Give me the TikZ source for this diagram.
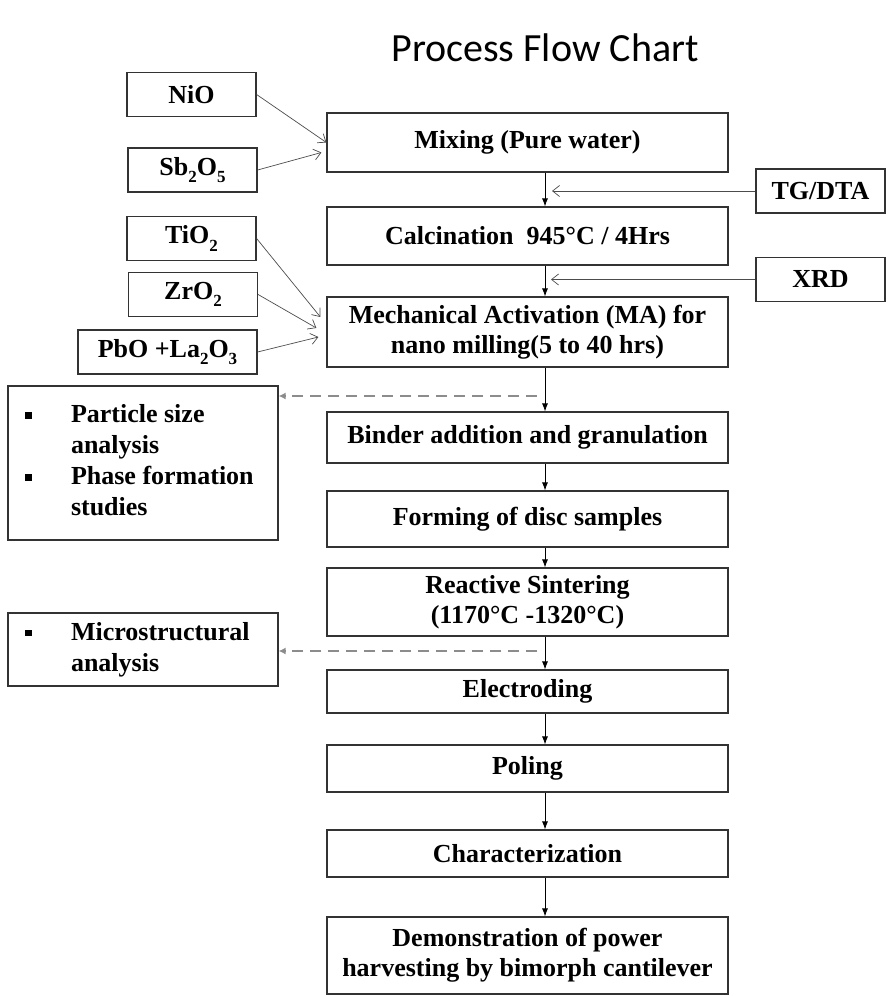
\documentclass[tikz,border=0pt]{standalone}
\usepackage{fontspec}
\setmainfont{Liberation Serif}
\newfontfamily\titlefont{Carlito}
\usetikzlibrary{arrows.meta,calc}
\newcommand{\lowsub}[1]{\raisebox{-0.28em}{\fontsize{17}{17}\selectfont #1}}

\begin{document}
\begin{tikzpicture}[x=1pt, y=-1pt,
  box/.style={draw=black!80, line width=1.2pt, inner sep=2pt, align=center, font=\fontsize{26}{30}\selectfont\bfseries},
  stepbox/.style={box, minimum width=401pt},
  inbox/.style={box, minimum width=129pt, minimum height=44pt},
  listbox/.style={box, minimum width=270pt, inner xsep=17pt, text width=236pt, align=left},
  flow/.style={-{Latex[length=8pt,width=6pt]}, line width=0.8pt},
  feed/.style={-{Straight Barb[length=7pt,width=11pt]}, line width=0.7pt, draw=black!70},
  probe/.style={-{Latex[length=7pt,width=7pt]}, line width=2.5pt, draw=black!45, dash pattern=on 11pt off 7pt}
]
\useasboundingbox (0,0) rectangle (887,996);
\node[font=\titlefont\fontsize{40}{48}\selectfont] (title) at (545,48) {Process Flow Chart};

% main process chain
\node[stepbox, minimum height=59pt] (mix)  at (527.5,142.5) {Mixing (Pure water)};
\node[stepbox, minimum height=58pt] (calc) at (527.5,236)   {Calcination\ \ 945°C / 4Hrs};
\node[stepbox, minimum height=70pt] (ma)   at (527.5,332)   {Mechanical Activation (MA) for\\nano milling(5 to 40 hrs)};
\node[stepbox, minimum height=51pt] (bind) at (527.5,437.5) {Binder addition and granulation};
\node[stepbox, minimum height=56pt] (form) at (527.5,519)   {Forming of disc samples};
\node[stepbox, minimum height=68pt] (sint) at (527.5,602)   {Reactive Sintering\\(1170°C -1320°C)};
\node[stepbox, minimum height=43pt] (elec) at (527.5,691.5) {Electroding};
\node[stepbox, minimum height=47pt] (pol)  at (527.5,768.5) {Poling};
\node[stepbox, minimum height=47pt] (char) at (527.5,853.5) {Characterization};
\node[stepbox, minimum height=77pt] (demo) at (527.5,955.5) {Demonstration of power\\harvesting by bimorph cantilever};
\foreach \a/\b in {mix/calc, calc/ma, ma/bind, bind/form, form/sint, sint/elec, elec/pol, pol/char, char/demo}
  \draw[flow] ([xshift=17.5pt]\a.south) -- ([xshift=17.5pt]\b.north);

% raw materials
\node[inbox] (nio) at (191.5,94.5)  {NiO};
\node[inbox] (sb)  at (192.5,170)   {Sb\lowsub{2}O\lowsub{5}};
\node[inbox] (tio) at (191.5,238.5) {TiO\lowsub{2}};
\node[inbox] (zro) at (193,294.5)   {ZrO\lowsub{2}};
\node[inbox, minimum width=179pt] (pbo) at (167.5,352) {PbO +La\lowsub{2}O\lowsub{3}};
\draw[feed] (nio.east) -- (mix.west);
\draw[feed] (sb.east)  -- ([shift={(-5,10)}]mix.west);
\draw[feed] (tio.east) -- ([shift={(-6,-15)}]ma.west);
\draw[feed] (zro.east) -- ([shift={(-10,-4)}]ma.west);
\draw[feed] (pbo.east) -- ([shift={(-8,5)}]ma.west);

% thermal / phase checks
\node[inbox] (tg)  at (820.5,191)   {TG/DTA};
\node[inbox] (xrd) at (820.5,279.5) {XRD};
\coordinate (tgend)  at (552,191);
\coordinate (xrdend) at (551,279.5);
\draw[feed] (tg.west)  -- (tgend);
\draw[feed] (xrd.west) -- (xrdend);

% analysis boxes
\node[listbox, minimum height=154pt] (part) at (143,463) {\fontsize{26}{31}\selectfont\spaceskip=0pt\xspaceskip=0pt
  \begin{tabular}{@{}p{46pt}@{}l@{}}
  \rule[4pt]{6.5pt}{6.5pt} & Particle size\\
  & analysis\\
  \rule[4pt]{6.5pt}{6.5pt} & Phase formation\\
  & studies
  \end{tabular}};
\node[listbox, minimum height=73pt] (micro) at (143,649.5) {\fontsize{26}{31}\selectfont\spaceskip=0pt\xspaceskip=0pt
  \begin{tabular}{@{}p{46pt}@{}l@{}}
  \rule[4pt]{6.5pt}{6.5pt} & Microstructural\\
  & analysis
  \end{tabular}};
\coordinate (p1) at (537,396);
\coordinate (p2) at (537,651);
\draw[probe] (p1) -- (p1 -| part.east);
\draw[probe] (p2) -- (p2 -| micro.east);
\end{tikzpicture}
\end{document}
